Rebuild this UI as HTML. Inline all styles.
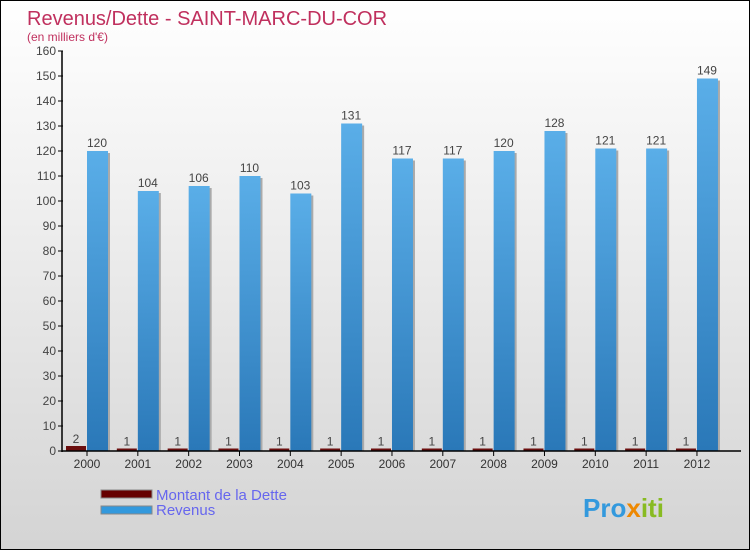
<!DOCTYPE html>
<html><head><meta charset="utf-8"><style>
body{margin:0}
#c{width:750px;height:550px;position:relative;background:linear-gradient(#ffffff,#d4d4d4);border:1px solid #000;box-sizing:border-box;overflow:hidden;font-family:"Liberation Sans",sans-serif}
</style></head><body>
<div id="c">
<svg width="750" height="550" id="svg">
<defs>
<linearGradient id="rg" x1="0" x2="0" y1="0" y2="1"><stop offset="0" stop-color="#5aaee8"/><stop offset="1" stop-color="#2a78b8"/></linearGradient>
</defs>
<text x="26" y="24" font-size="20" fill="#c0305e">Revenus/Dette - SAINT-MARC-DU-COR</text>
<text x="26" y="40" font-size="12" fill="#c0305e">(en milliers d'€)</text>
<g id="plot"></g>
<rect x="100" y="489" width="51" height="8" fill="#660000" stroke="#888" stroke-width="1"/>
<rect x="100" y="505" width="51" height="8" fill="#3399dd" stroke="#888" stroke-width="1"/>
<text x="155" y="499" font-size="15" fill="#6666ee">Montant de la Dette</text>
<text x="155" y="514" font-size="15" fill="#6666ee">Revenus</text>
<text x="582" y="516" font-size="26" font-weight="bold" fill="#3399dd">Pro<tspan fill="#ee8800">x</tspan><tspan fill="#88bb22">iti</tspan></text>
</svg>
</div>
<script>
const years=["2000","2001","2002","2003","2004","2005","2006","2007","2008","2009","2010","2011","2012"];
const dette=[2,1,1,1,1,1,1,1,1,1,1,1,1];
const revenus=[120,104,106,110,103,131,117,117,120,128,121,121,149];
const yTicks=[0,10,20,30,40,50,60,70,80,90,100,110,120,130,140,150,160];
const NS="http://www.w3.org/2000/svg";
const g=document.getElementById('plot');
const y=v=>450-v*2.5;
const xc=i=>86+i*50.83;
function mk(t,a,p){const e=document.createElementNS(NS,t);for(const k in a)e.setAttribute(k,a[k]);(p||g).appendChild(e);return e;}
yTicks.forEach(v=>{
 const l=mk('line',{x1:57,x2:62,y1:y(v),y2:y(v),stroke:'#000'});
 
 
 const t=mk('text',{x:55,y:y(v)+4,'text-anchor':'end','font-size':12,fill:'#444'});t.textContent=v;
 
 
});
years.forEach((yr,i)=>{
 const c=xc(i);
 const s=mk('rect',{x:c+2,y:y(revenus[i])+2,width:21,height:revenus[i]*2.5-2,fill:'#aaa'});
 
 
 const d=mk('rect',{x:c-21,y:y(dette[i]),width:20,height:dette[i]*2.5,fill:'#6b0e0e'});
 
 
 const r=mk('rect',{x:c,y:y(revenus[i]),width:21,height:revenus[i]*2.5,fill:'url(#rg)'});
 
 
 const t1=mk('text',{x:c-11,y:y(dette[i])-3,'text-anchor':'middle','font-size':12,fill:'#444'});t1.textContent=dette[i];
 
 
 const t2=mk('text',{x:c+10,y:y(revenus[i])-4,'text-anchor':'middle','font-size':12,fill:'#444'});t2.textContent=revenus[i];
 
 
 const tk=mk('line',{x1:c,x2:c,y1:450,y2:455,stroke:'#000'});
 
 
 const xl=mk('text',{x:c,y:467,'text-anchor':'middle','font-size':12,fill:'#333'});xl.textContent=yr;
 
 
});
const ax=mk('line',{x1:61,x2:61,y1:50,y2:451,stroke:'#000','stroke-width':1.5});


const bx=mk('line',{x1:61,x2:740,y1:450,y2:450,stroke:'#000','stroke-width':1.5});


</script>
</body></html>
